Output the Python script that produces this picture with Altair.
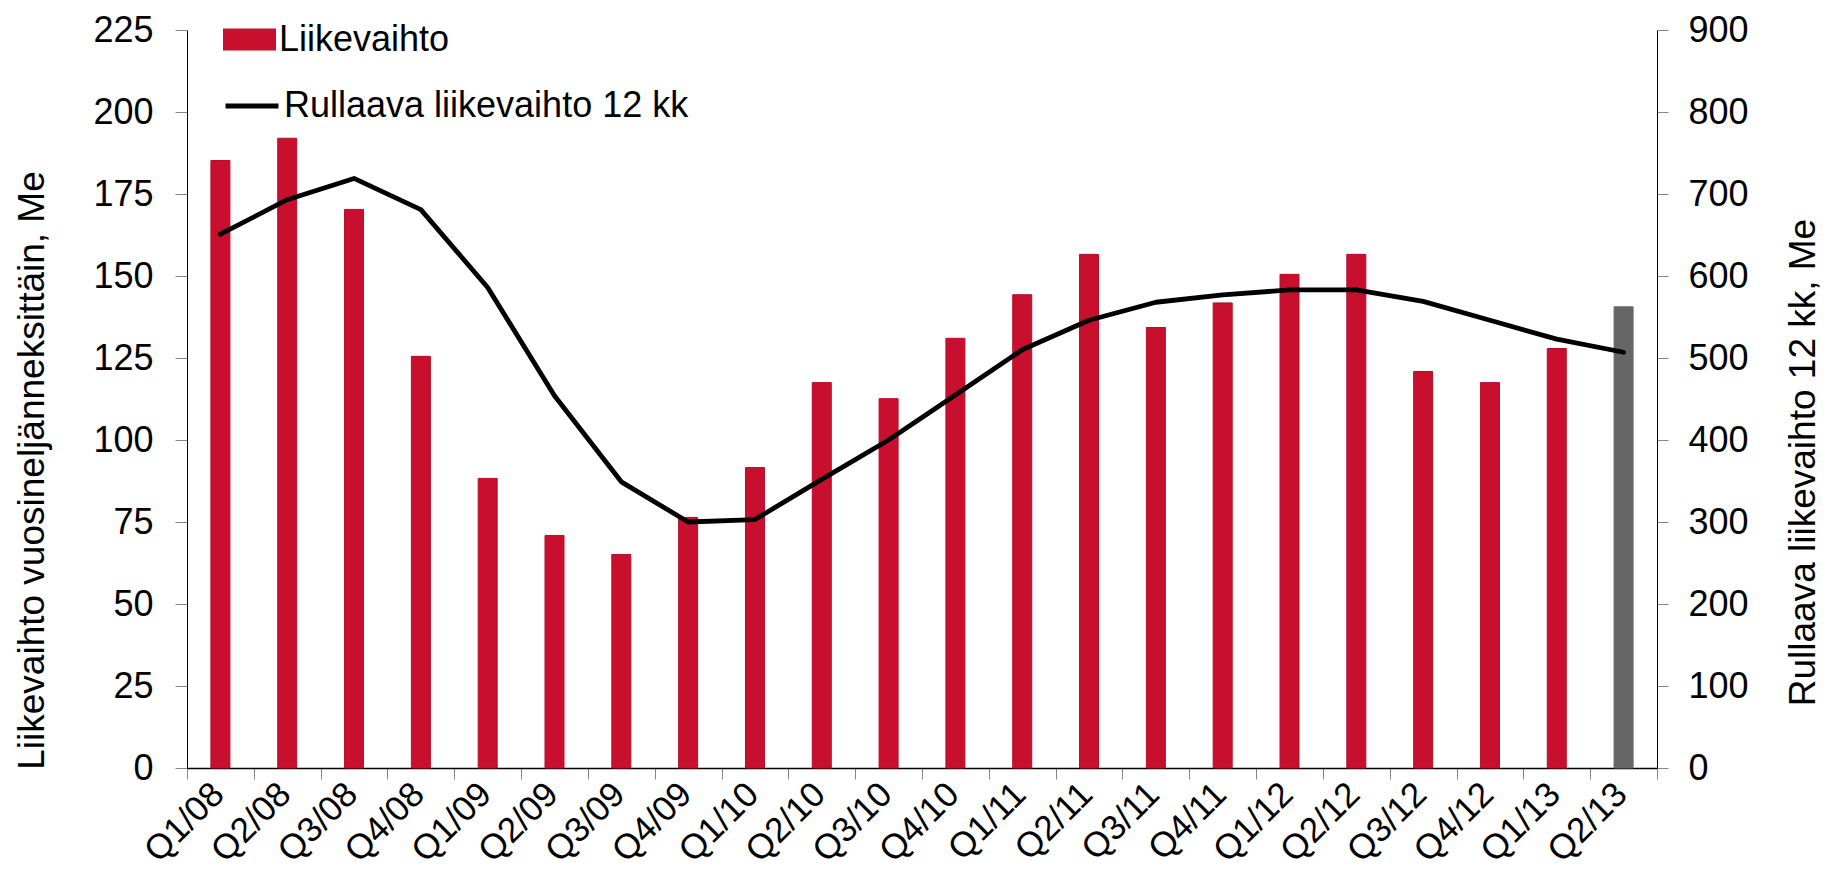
import altair as alt
import pandas as pd

quarters = ["Q1/08", "Q2/08", "Q3/08", "Q4/08", "Q1/09", "Q2/09", "Q3/09", "Q4/09",
            "Q1/10", "Q2/10", "Q3/10", "Q4/10", "Q1/11", "Q2/11", "Q3/11", "Q4/11",
            "Q1/12", "Q2/12", "Q3/12", "Q4/12", "Q1/13", "Q2/13"]
revenue = [185.2, 192.0, 170.3, 125.5, 88.3, 70.9, 65.1, 76.4,
           91.6, 117.5, 112.6, 131.0, 144.3, 156.6, 134.3, 141.8,
           150.5, 156.6, 120.9, 117.5, 127.9, 140.6]
rolling_12m = [651, 693, 719, 681, 586, 454, 349, 300,
               303, 352, 400, 455, 510, 546, 568, 577,
               583, 583, 569, 546, 523, 507]
bar_kind = ["Liikevaihto"] * 21 + ["Q2/13"]
line_series = ["Rullaava liikevaihto 12 kk"] * 22

df = pd.DataFrame({
    "quarter": quarters,
    "revenue": revenue,
    "rolling": rolling_12m,
    "kind": bar_kind,
    "series": line_series,
})

FONT = "Liberation Sans"
RED = "#C8102E"
GREY = "#666666"

x_axis = alt.Axis(
    title=None, labelAngle=-45, labelAlign="right", labelBaseline="alphabetic",
    labelPadding=17, labelOffset=5, labelOverlap=False, tickBand="extent",
    tickSize=11, tickColor="#868686", domainColor="#000000", domainWidth=1.5,
    labelFontSize=35,
)
x_enc = alt.X("quarter:N", sort=quarters, axis=x_axis,
              scale=alt.Scale(paddingInner=0, paddingOuter=0))

bars = alt.Chart(df).mark_bar(size=19, strokeWidth=1).encode(
    x=x_enc,
    y=alt.Y("revenue:Q",
            scale=alt.Scale(domain=[0, 225], nice=False),
            axis=alt.Axis(values=list(range(0, 226, 25)),
                          title="Liikevaihto vuosineljänneksittäin, Me",
                          titleAngle=-90, titleBaseline="alphabetic", titleAlign="center",
                          titleX=-144, titleY=440,
                          tickSize=12, labelPadding=22, domainColor="#000000")),
    fill=alt.Fill("kind:N",
                  scale=alt.Scale(domain=["Liikevaihto", "Q2/13"], range=[RED, GREY]),
                  legend=alt.Legend(values=["Liikevaihto"], title=None, orient="none",
                                    legendX=36, legendY=-17, padding=0,
                                    symbolType="M-1,-0.415H1V0.415H-1Z",
                                    symbolSize=2809, symbolStrokeWidth=0,
                                    labelOffset=3)),
    stroke=alt.condition(alt.datum.kind == "Liikevaihto",
                         alt.value("#B80C28"), alt.value(GREY)),
)

line = alt.Chart(df).mark_line(strokeWidth=4.8, strokeCap="round", strokeJoin="round").encode(
    x=x_enc,
    y=alt.Y("rolling:Q",
            scale=alt.Scale(domain=[0, 900], nice=False),
            axis=alt.Axis(orient="right", values=list(range(0, 901, 100)),
                          title="Rullaava liikevaihto 12 kk, Me",
                          titleAngle=-90, titleBaseline="alphabetic", titleAlign="center",
                          titleX=157, titleY=432,
                          tickSize=11, labelPadding=20, domainColor="#000000")),
    stroke=alt.Stroke("series:N",
                      scale=alt.Scale(domain=["Rullaava liikevaihto 12 kk"], range=["#000000"]),
                      legend=alt.Legend(title=None, orient="none", legendX=36, legendY=47,
                                        padding=0, symbolType="stroke", symbolSize=2809,
                                        symbolStrokeWidth=5, labelOffset=3)),
)

chart = alt.layer(bars, line).resolve_scale(
    y="independent", fill="independent", stroke="independent"
).properties(
    width=1470, height=738,
    autosize=alt.AutoSizeParams(type="none"),
    padding={"left": 179, "top": 22, "right": 166, "bottom": 107},
).configure_view(
    stroke=None
).configure_axis(
    labelFont=FONT, titleFont=FONT, labelFontSize=36, titleFontSize=37,
    titleFontWeight="normal", labelColor="#000000", titleColor="#000000",
    grid=False, tickColor="#868686",
).configure_legend(
    labelFont=FONT, labelFontSize=36, labelColor="#000000", labelLimit=0,
)

chart.save("out.html", embed_options={"renderer": "svg", "actions": False})
